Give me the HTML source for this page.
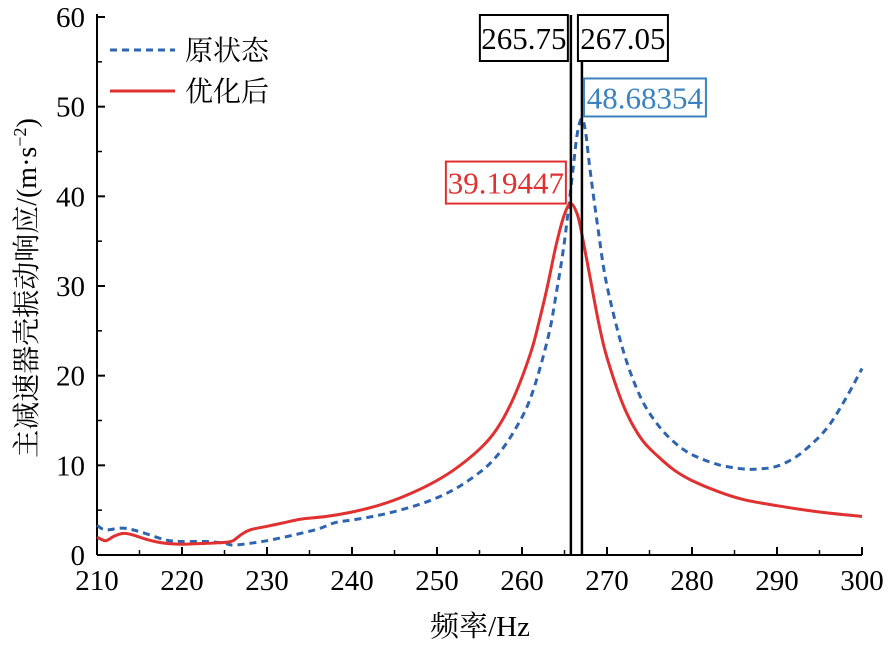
<!DOCTYPE html>
<html><head><meta charset="utf-8"><style>
body{margin:0;background:#fff}
svg text{font-family:"Liberation Serif","Noto Serif CJK SC",serif}
</style></head><body>
<svg width="892" height="644">
<g id="axes"></g>
<g id="marks"></g>
<g id="ann"></g>
<g>
<line x1="110" y1="50" x2="175" y2="50" stroke="#2f64b0" stroke-width="3" stroke-dasharray="7,5"/>
<text x="185" y="60" font-size="28">原状态</text>
<line x1="110" y1="91" x2="175" y2="91" stroke="#e03030" stroke-width="3"/>
<text x="185" y="101" font-size="28">优化后</text>
</g>
<text x="480" y="636" font-size="29" text-anchor="middle">频率/Hz</text>
<text transform="translate(36,288) rotate(-90)" font-size="28" text-anchor="middle">主减速器壳振动响应/(m·s<tspan dy="-10" font-size="18">−2</tspan><tspan dy="10">)</tspan></text>
</svg>
<script>
const xTicks=[210,220,230,240,250,260,270,280,290,300];
const yTicks=[0,10,20,30,40,50,60];
const origX=[210,211,213,215,218,220,223,225,226,228,230,233,236,238,240,243,246,249,252,255,257,259,261,263,264,265,266,266.5,267.05,267.5,268,269,270,272,274,276,278,280,283,286,288,290,292,294,296,298,300];
const origY=[3.3,2.8,3.0,2.6,1.7,1.5,1.5,1.3,1.1,1.3,1.6,2.2,2.9,3.6,3.9,4.4,5.1,6.0,7.3,9.2,11.0,13.7,17.5,24,29,35,43,47,48.68,47,43,36,30,22.5,17.5,14.5,12.5,11.2,10.1,9.6,9.6,9.9,10.8,12.3,14.3,17.3,20.8];
const optX=[210,211,212,213,214,216,218,220,223,225,226,227,228,230,232,234,237,240,243,246,249,252,255,257,259,261,262,263,264,265,265.75,266.5,267,268,269,270,272,274,276,278,280,283,286,290,295,300];
const optY=[2.0,1.6,2.1,2.4,2.3,1.7,1.3,1.2,1.3,1.4,1.6,2.3,2.8,3.2,3.6,4.0,4.3,4.8,5.5,6.5,7.8,9.5,11.8,14,17.5,22.5,26,30,34.5,38,39.19,38,36,31,26,22,16.5,13,11,9.4,8.3,7.1,6.2,5.5,4.8,4.3];
const markers=[265.75,267.05];
const peakOrig=48.68354, peakOpt=39.19447;
const X0=97,X1=862,Y0=555,Y1=17;
const sx=v=>X0+(v-210)/90*(X1-X0);
const sy=v=>Y0-v/60*(Y0-Y1);
const NS="http://www.w3.org/2000/svg";
function mk(p,t,a){const e=document.createElementNS(NS,t);for(const k in a)e.setAttribute(k,a[k]);p.appendChild(e);return e;}
const ax=document.getElementById('axes');
let e=mk(ax,'line',{x1:X0,y1:Y0,x2:X1,y2:Y0,stroke:'#000','stroke-width':2});


e=mk(ax,'line',{x1:X0,y1:Y0,x2:X0,y2:Y1-3,stroke:'#000','stroke-width':2});


xTicks.forEach((t,i)=>{
 mk(ax,'line',{x1:sx(t),y1:Y0,x2:sx(t),y2:Y0-8,stroke:'#000','stroke-width':2});
 if(i<xTicks.length-1)mk(ax,'line',{x1:sx(t+5),y1:Y0,x2:sx(t+5),y2:Y0-5,stroke:'#000','stroke-width':1.5});
 e=mk(ax,'text',{x:sx(t),y:Y0+35,'font-size':29,'text-anchor':'middle'});e.textContent=t;
 
 
});
yTicks.forEach((t,i)=>{
 mk(ax,'line',{x1:X0,y1:sy(t),x2:X0+8,y2:sy(t),stroke:'#000','stroke-width':2});
 if(i<yTicks.length-1)mk(ax,'line',{x1:X0,y1:sy(t+5),x2:X0+5,y2:sy(t+5),stroke:'#000','stroke-width':1.5});
 e=mk(ax,'text',{x:X0-12,y:sy(t)+10,'font-size':29,'text-anchor':'end'});e.textContent=t;
 
 
});
const mg=document.getElementById('marks');
function path(xs,ys){
 const P=xs.map((x,i)=>[sx(x),sy(ys[i])]);
 let d='M'+P[0][0].toFixed(1)+','+P[0][1].toFixed(1);
 for(let i=0;i<P.length-1;i++){
  const p0=P[Math.max(i-1,0)],p1=P[i],p2=P[i+1],p3=P[Math.min(i+2,P.length-1)];
  const c1=[p1[0]+(p2[0]-p0[0])/6,p1[1]+(p2[1]-p0[1])/6];
  const c2=[p2[0]-(p3[0]-p1[0])/6,p2[1]-(p3[1]-p1[1])/6];
  d+='C'+c1.map(v=>v.toFixed(1))+' '+c2.map(v=>v.toFixed(1))+' '+p2.map(v=>v.toFixed(1));
 }
 return d;
}
e=mk(mg,'path',{d:path(origX,origY),fill:'none',stroke:'#2f64b0','stroke-width':3,'stroke-dasharray':'7,5'});


e=mk(mg,'path',{d:path(optX,optY),fill:'none',stroke:'#e03030','stroke-width':3});


const an=document.getElementById('ann');
function box(cx,anchorRight,y,txt,col,name,w,h){
 const x=anchorRight?cx-w:cx;
 mk(an,'rect',{x:x,y:y,width:w,height:h,fill:'#fff',stroke:col,'stroke-width':2});
 let t=mk(an,'text',{x:x+w/2,y:y+h/2+11,'font-size':31,'text-anchor':'middle',fill:col});t.textContent=txt;
 
 
}
markers.forEach((m,i)=>{
 e=mk(an,'line',{x1:sx(m),y1:Y0,x2:sx(m),y2:15,stroke:'#000','stroke-width':2.5});
 
 
});
box(sx(markers[0])-3,true,15,markers[0].toFixed(2),'#000','marker-label-1',88,46);
box(sx(markers[1])-4,false,15,markers[1].toFixed(2),'#000','marker-label-2',90,46);
box(sx(markers[1])+2,false,sy(peakOrig)-40,peakOrig.toFixed(5),'#3a82c0','peak-label-original',122,38);
box(sx(markers[0])-5,true,sy(peakOpt)-42,peakOpt.toFixed(5),'#e03030','peak-label-optimized',120,42);
</script>
</body></html>
